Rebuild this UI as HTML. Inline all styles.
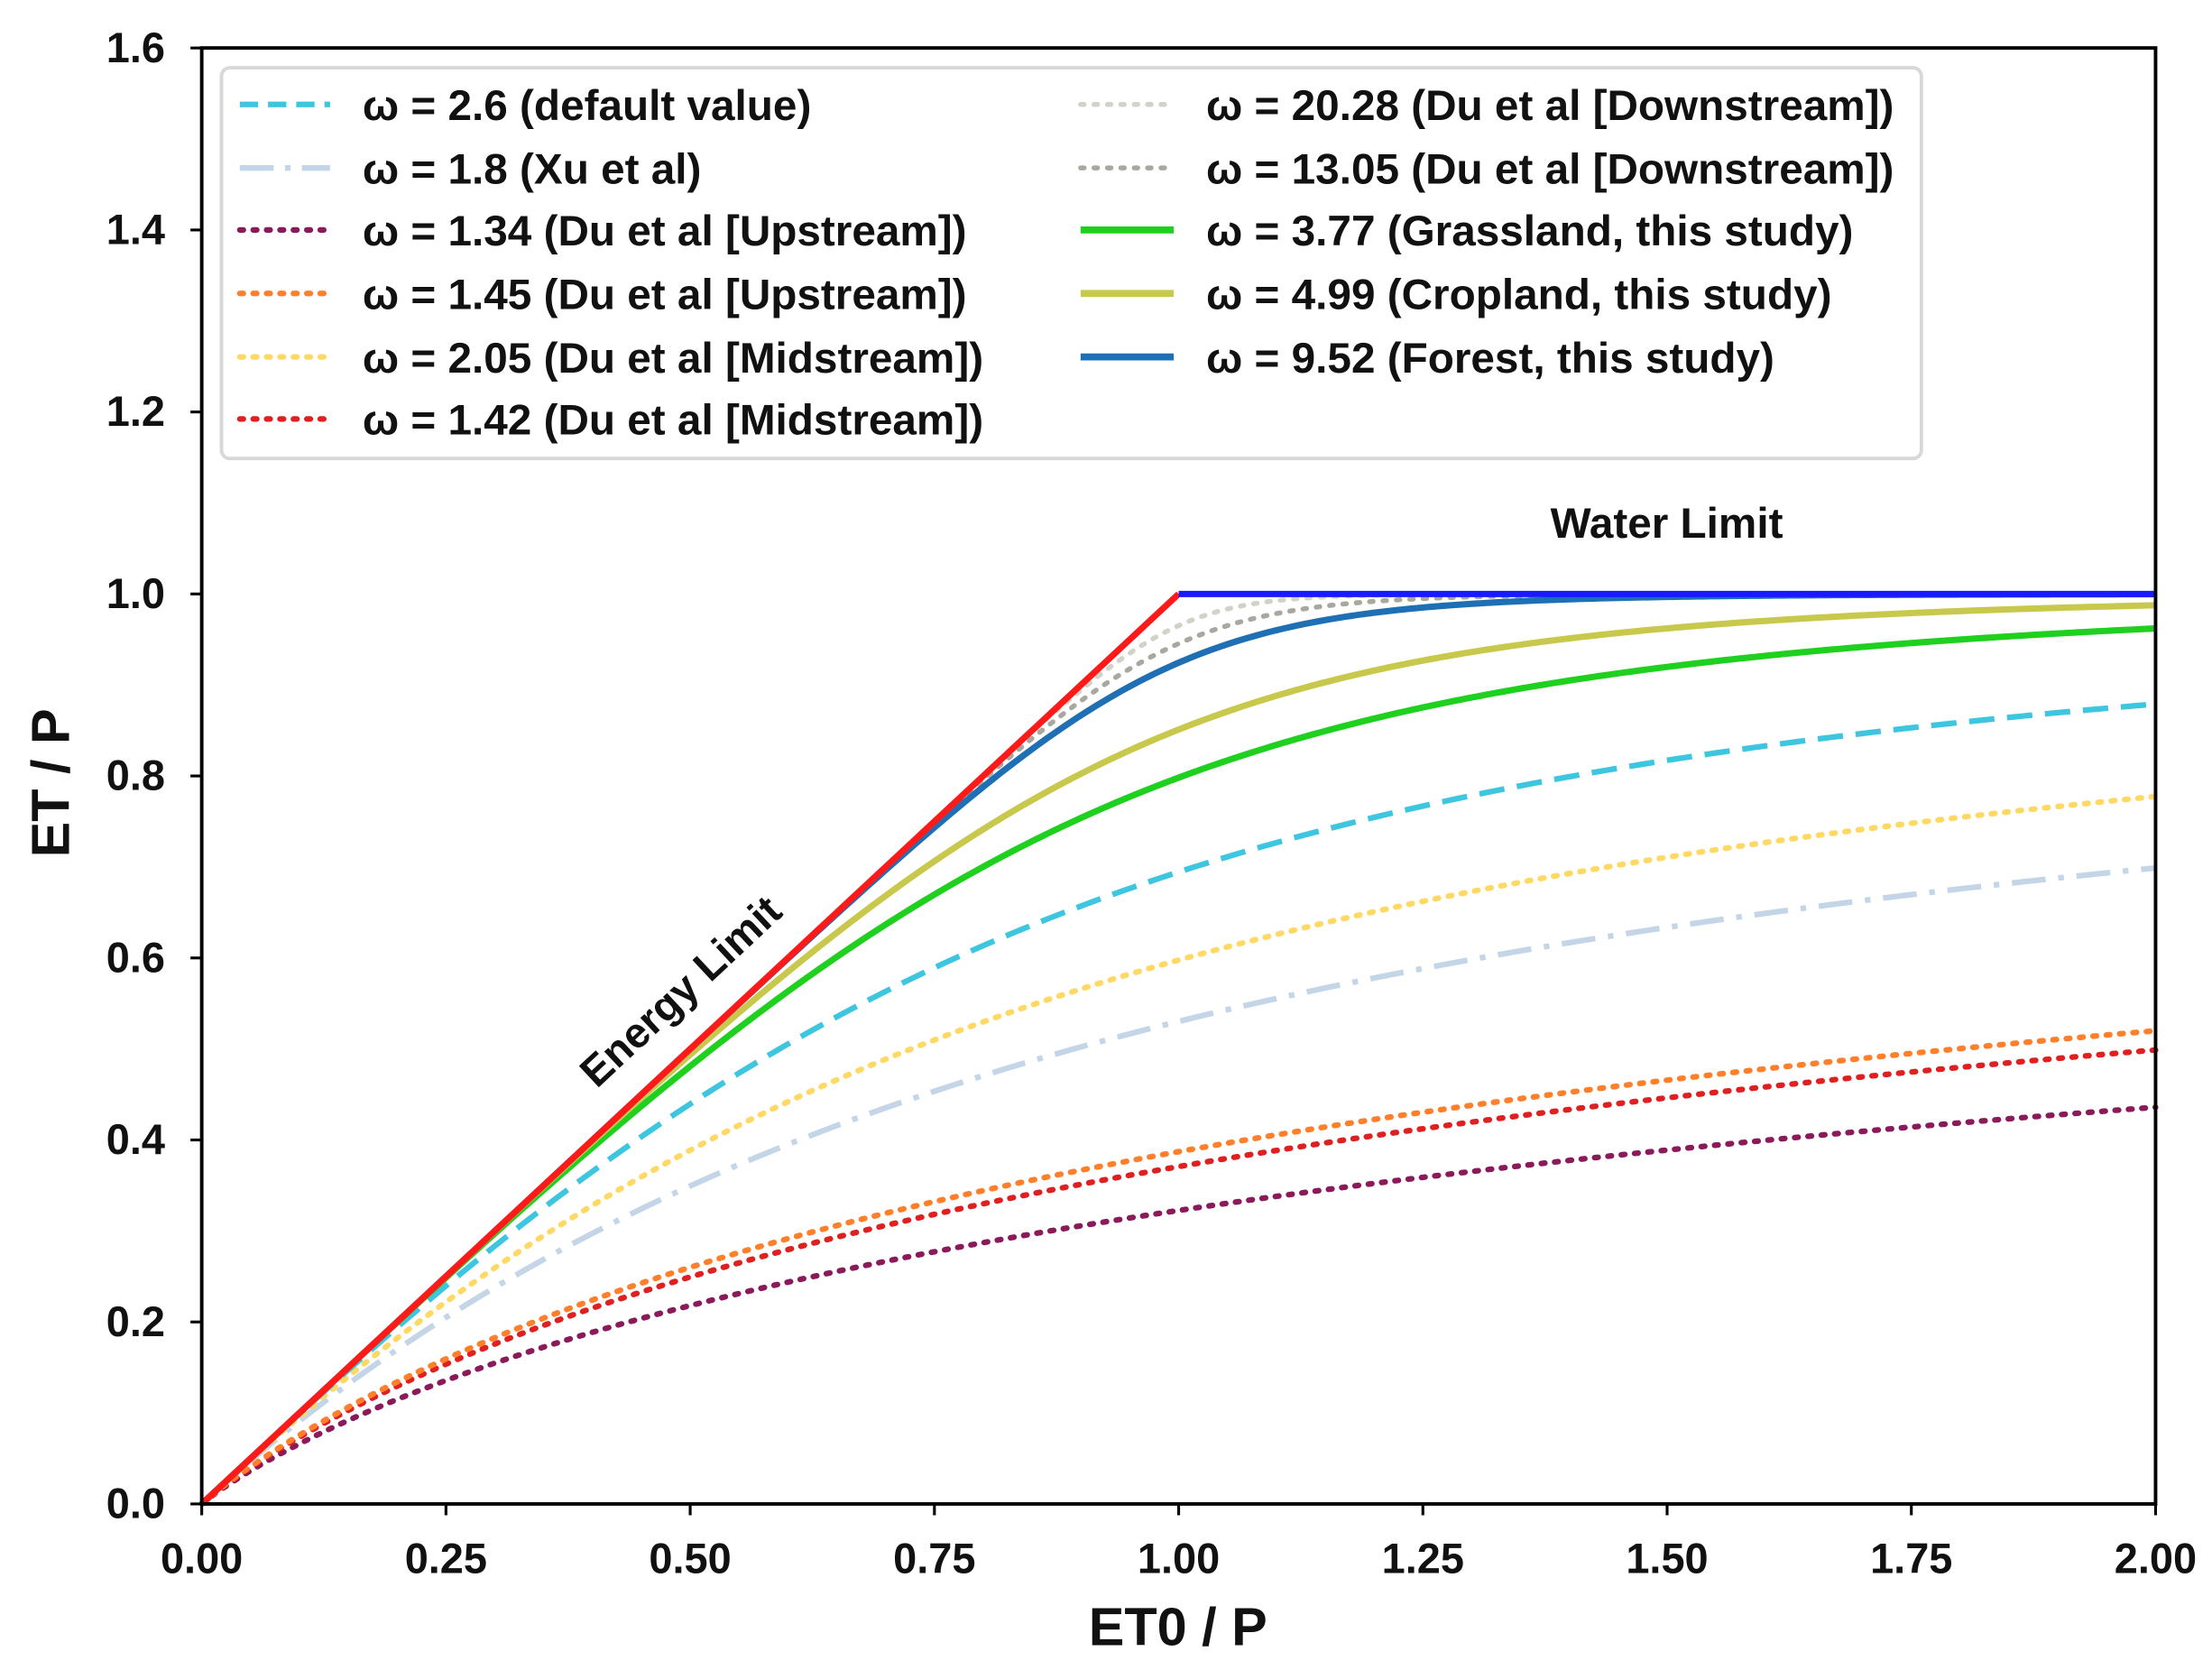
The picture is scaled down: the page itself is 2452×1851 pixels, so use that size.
<!DOCTYPE html>
<html><head><meta charset="utf-8">
<style>
html,body{margin:0;padding:0;background:#fff;}
svg{display:block;}
text{font-family:"Liberation Sans",Arial,sans-serif;font-weight:bold;fill:#111;}
</style></head>
<body>
<svg id="s" width="2452" height="1851" viewBox="0 0 1568 1183.7" preserveAspectRatio="none" xmlns="http://www.w3.org/2000/svg">
<rect x="0" y="0" width="1568" height="1184" fill="#fff"/>
<g id="curves"></g>
<rect x="143" y="34" width="1385" height="1032" fill="none" stroke="#000" stroke-width="2.5"/>
<g id="ticks" stroke="#000" stroke-width="2"></g>
<g id="labels" font-size="30"></g>
<rect x="157" y="48" width="1205" height="277" rx="6" fill="#fff" fill-opacity="0.85" stroke="#d8d8d8" stroke-width="2.5"/>
<g id="legend" font-size="30.5"></g>
<text x="1099" y="381" font-size="30.5">Water Limit</text>
<text x="0" y="0" font-size="30" transform="translate(423,772) rotate(-43)">Energy Limit</text>
<text x="835" y="1166" font-size="38" text-anchor="middle">ET0 / P</text>
<text x="0" y="0" font-size="38" text-anchor="middle" transform="translate(49,555) rotate(-90)">ET / P</text>
</svg>
<script>
var NS="http://www.w3.org/2000/svg";
function X(v){return 143+v*692.5;}
function Y(v){return 1066-v*645;}
function el(tag,attrs,parent,txt){var e=document.createElementNS(NS,tag);for(var k in attrs)e.setAttribute(k,attrs[k]);if(txt!==undefined)e.textContent=txt;parent.appendChild(e);return e;}
var curves=document.getElementById('curves');
var series=[
 {w:1.34,c:'#8b1a5a',d:'2.5,7',sw:4,lc:'round'},
 {w:1.42,c:'#e02020',d:'2.5,7',sw:4,lc:'round'},
 {w:1.45,c:'#ff7f2a',d:'2.5,7',sw:4,lc:'round'},
 {w:1.8,c:'#c3d5e6',d:'24,9,4,9',sw:4,lc:'butt'},
 {w:2.05,c:'#ffd966',d:'2.5,7',sw:4,lc:'round'},
 {w:2.6,c:'#3ec6e0',d:'18,9',sw:4,lc:'butt'},
 {w:20.28,c:'#d2d2c8',d:'2.5,7',sw:3.5,lc:'round'},
 {w:13.05,c:'#a8a8a0',d:'2.5,7',sw:3.5,lc:'round'},
 {w:3.77,c:'#1fd01f',d:'',sw:4.5,lc:'butt'},
 {w:4.99,c:'#c8c84c',d:'',sw:4.5,lc:'butt'},
 {w:9.52,c:'#1f6fb5',d:'',sw:4.5,lc:'butt'}
];
series.forEach(function(s){
 var p='';
 for(var i=0;i<=400;i++){var f=i/200;var y=1+f-Math.pow(1+Math.pow(f,s.w),1/s.w);
  p+=(i?'L':'M')+X(f).toFixed(2)+','+Y(y).toFixed(2);}
 var a={d:p,fill:'none',stroke:s.c,'stroke-width':s.sw,'stroke-linecap':s.lc};
 if(s.d)a['stroke-dasharray']=s.d;
 el('path',a,curves);
});
el('line',{x1:X(0),y1:Y(0),x2:X(1),y2:Y(1),stroke:'#ff1a1a','stroke-width':4.5},curves);
el('line',{x1:X(1),y1:Y(1),x2:X(2),y2:Y(1),stroke:'#1a1aff','stroke-width':4.5},curves);
var ticks=document.getElementById('ticks'),labels=document.getElementById('labels');
for(var i=0;i<=8;i++){var v=i*0.2;var y=Y(v);
 el('line',{x1:135,y1:y,x2:143,y2:y},ticks);
 el('text',{x:117,y:y+10,'text-anchor':'end'},labels,v.toFixed(1));}
for(var i=0;i<=8;i++){var v=i*0.25;var x=X(v);
 el('line',{x1:x,y1:1066,x2:x,y2:1074},ticks);
 el('text',{x:x,y:1115,'text-anchor':'middle'},labels,v.toFixed(2));}
var leg=document.getElementById('legend');
var L=[
 [0,74,'#3ec6e0','13,7','butt',4,'ω = 2.6 (default value)'],
 [0,119,'#c3d5e6','24,8,4,8','butt',4,'ω = 1.8 (Xu et al)'],
 [0,163,'#8b1a5a','2.5,7','round',4,'ω = 1.34 (Du et al [Upstream])'],
 [0,208,'#ff7f2a','2.5,7','round',4,'ω = 1.45 (Du et al [Upstream])'],
 [0,253,'#ffd966','2.5,7','round',4,'ω = 2.05 (Du et al [Midstream])'],
 [0,297,'#e02020','2.5,7','round',4,'ω = 1.42 (Du et al [Midstream])'],
 [1,74,'#d2d2c8','2.5,7','round',3.5,'ω = 20.28 (Du et al [Downstream])'],
 [1,119,'#a8a8a0','2.5,7','round',3.5,'ω = 13.05 (Du et al [Downstream])'],
 [1,163,'#1fd01f','','butt',5,'ω = 3.77 (Grassland, this study)'],
 [1,208,'#c8c84c','','butt',5,'ω = 4.99 (Cropland, this study)'],
 [1,253,'#1f6fb5','','butt',5,'ω = 9.52 (Forest, this study)']
];
L.forEach(function(r){
 var x1=r[0]?766:170,x2=r[0]?832:234,tx=r[0]?855:257;
 var a={x1:x1,y1:r[1],x2:x2,y2:r[1],stroke:r[2],'stroke-width':r[5],'stroke-linecap':r[4]};
 if(r[3])a['stroke-dasharray']=r[3];
 el('line',a,leg);
 el('text',{x:tx,y:r[1]+11},leg,r[6]);
});
</script>
</body></html>
